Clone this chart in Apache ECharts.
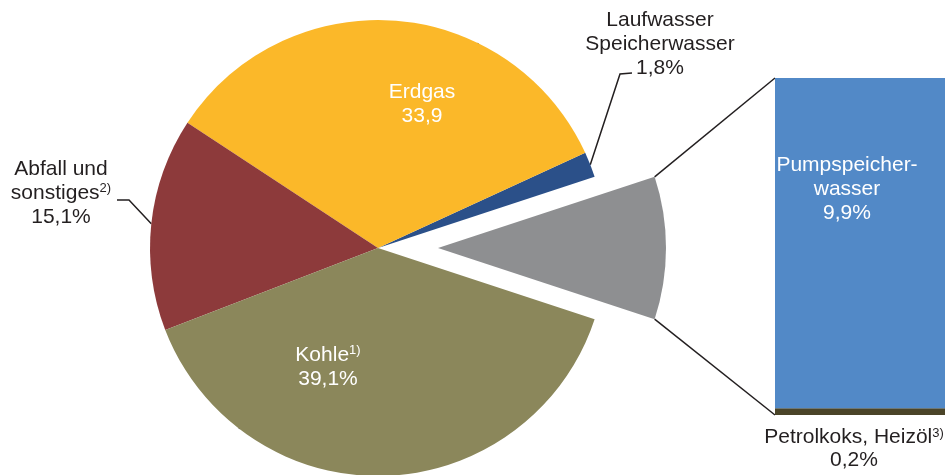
<!DOCTYPE html>
<html>
<head>
<meta charset="utf-8">
<script src="https://cdn.jsdelivr.net/npm/echarts@6/dist/echarts.min.js"></script>
<style>
  html, body { margin: 0; padding: 0; background: #fff; }
  #chart { width: 948px; height: 475px; }
</style>
</head>
<body>
<div id="chart"></div>
<script>
// Daten (Anteile in %)
const pieNames = ["Pumpspeicher", "Laufwasser", "Erdgas", "Abfall", "Kohle"];
const pieValues = [10.1, 1.8, 33.9, 15.1, 39.1];
const pieColors = ["#8E8F91", "#2B5089", "#FBB829", "#8D3A3B", "#8B875B"];

const barNames = ["Petrolkoks", "Pumpspeicherwasser"];
const barValues = [0.2, 9.9];
const barColors = ["#4A4428", "#5289C7"];

// layout
const center = [378, 248];
const radius = 228;
const explode = 60;
const gridBox = { left: 775, top: 78, width: 170, bottom: 60 };
const font = "'Liberation Sans', Arial, sans-serif";
const dark = "#231F20";
const fs = 21;

const total = pieValues.reduce((a, b) => a + b, 0);
const halfGray = (pieValues[0] / total) * 360 / 2;
const barTotal = barValues.reduce((a, b) => a + b, 0);

const chart = echarts.init(document.getElementById("chart"));

const supStyle = c => ({ fontSize: 13, padding: [0, 0, 9, 0], color: c });

// Position der Beschriftungen (Mittelpunkt)
const labelPos = {
  1: { x: 660, y: 44, line: [620, 74] },
  2: { x: 422, y: 104 },
  3: { x: 61, y: 193, line: [129, 200] },
  4: { x: 328, y: 367 },
};

const option = {
  animation: false,
  textStyle: { fontFamily: font },
  grid: {
    left: gridBox.left,
    top: gridBox.top,
    width: gridBox.width,
    bottom: gridBox.bottom,
  },
  xAxis: { type: "category", data: [""], show: false },
  yAxis: { type: "value", min: 0, max: barTotal, show: false },
  series: [
    {
      type: "pie",
      center: center,
      radius: radius,
      clockwise: false,
      startAngle: -halfGray,
      selectedMode: true,
      selectedOffset: explode,
      emphasis: { disabled: true },
      label: {
        fontSize: fs,
        lineHeight: 24,
        color: dark,
        align: "center",
        overflow: "none",
        rich: { sup: supStyle(dark), supw: supStyle("#fff") },
      },
      labelLine: { lineStyle: { color: dark, width: 1.5 } },
      labelLayout: function (p) {
        const pos = labelPos[p.dataIndex];
        if (!pos) return {};
        const res = { x: pos.x, y: pos.y, align: "center", verticalAlign: "middle" };
        if (pos.line && p.labelLinePoints) {
          const a = p.labelLinePoints[0];
          const dir = pos.line[0] > a[0] ? 1 : -1;
          res.labelLinePoints = [a, pos.line, [pos.line[0] + dir * 12, pos.line[1] - (dir > 0 ? 1 : 0)]];
        }
        return res;
      },
      data: pieNames.map((n, i) => {
        const d = { name: n, value: pieValues[i], itemStyle: { color: pieColors[i] } };
        if (i === 0) {
          d.selected = true;
          d.select = { itemStyle: { color: pieColors[i] } };
          d.label = { show: false };
          d.labelLine = { show: false };
        } else if (i === 1) {
          d.label = { position: "outside", overflow: "none", formatter: "Laufwasser\nSpeicherwasser\n1,8%" };
        } else if (i === 2) {
          d.label = { position: "inside", color: "#fff", formatter: "Erdgas\n33,9" };
        } else if (i === 3) {
          d.label = { position: "outside", overflow: "none", formatter: "Abfall und\nsonstiges{sup|2)}\n15,1%" };
        } else {
          d.label = { position: "inside", color: "#fff", formatter: "Kohle{supw|1)}\n39,1%" };
        }
        return d;
      }),
    },
    {
      type: "bar",
      name: barNames[0],
      stack: "s",
      barWidth: "100%",
      data: [barValues[0]],
      itemStyle: { color: barColors[0] },
      label: {
        show: true,
        position: "bottom",
        distance: 11,
        offset: [-6, 0],
        fontSize: fs,
        lineHeight: 23,
        color: dark,
        align: "center",
        formatter: "Petrolkoks, Heizöl{sup|3)}\n0,2%",
        rich: { sup: supStyle(dark) },
      },
    },
    {
      type: "bar",
      name: barNames[1],
      stack: "s",
      barWidth: "100%",
      data: [barValues[1]],
      itemStyle: { color: barColors[1] },
      label: {
        show: true,
        position: "inside",
        offset: [-13, -54],
        fontSize: fs,
        lineHeight: 24,
        color: "#fff",
        align: "center",
        formatter: "Pumpspeicher-\nwasser\n9,9%",
      },
    },
  ],
};

chart.setOption(option);

// Verbindungslinien vom abgesetzten Segment zum Balken
const rad = Math.PI / 180;
const ox = center[0] + explode;
const oy = center[1];
const corners = [halfGray, -halfGray].map(a => [ox + radius * Math.cos(a * rad), oy - radius * Math.sin(a * rad)]);
const barTop = chart.convertToPixel({ yAxisIndex: 0 }, barTotal);
const barBottom = chart.convertToPixel({ yAxisIndex: 0 }, 0);
chart.setOption({
  graphic: [
    { type: "line", shape: { x1: corners[0][0], y1: corners[0][1], x2: gridBox.left, y2: barTop }, style: { stroke: dark, lineWidth: 1.5 } },
    { type: "line", shape: { x1: corners[1][0], y1: corners[1][1], x2: gridBox.left, y2: barBottom }, style: { stroke: dark, lineWidth: 1.5 } },
  ],
});
</script>
</body>
</html>
